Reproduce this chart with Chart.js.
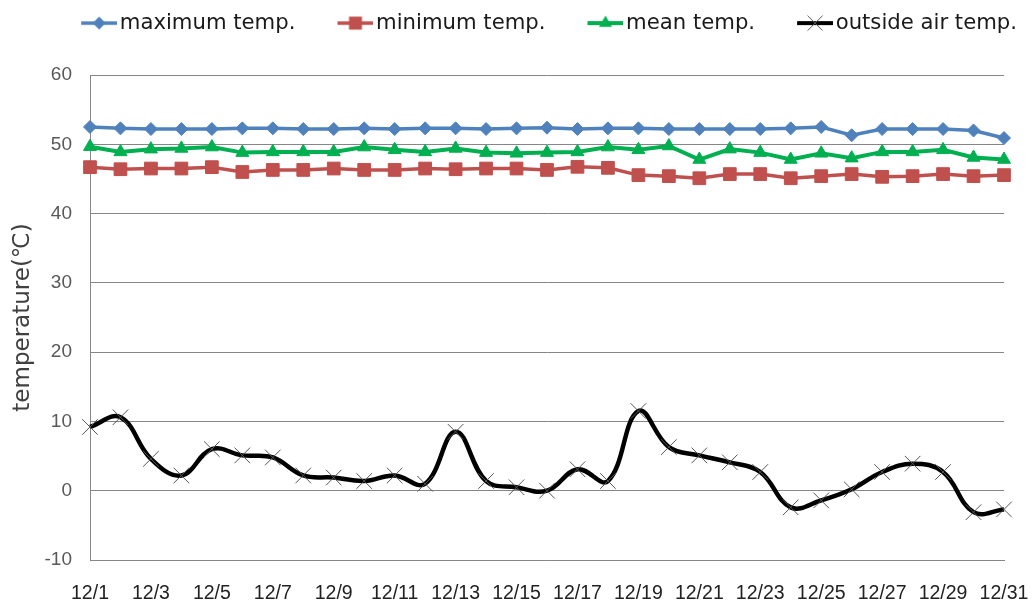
<!DOCTYPE html>
<html>
<head>
<meta charset="utf-8">
<title>temperature</title>
<script src="https://cdn.jsdelivr.net/npm/chart.js@4.4.1/dist/chart.umd.min.js"></script>
<style>
  html, body { margin: 0; padding: 0; background: #fff; }
  canvas { display: block; }
</style>
</head>
<body>
<canvas id="temps" width="1032" height="606"></canvas>
<script>
// data
const days = ["12/1", "12/2", "12/3", "12/4", "12/5", "12/6", "12/7", "12/8", "12/9", "12/10",
  "12/11", "12/12", "12/13", "12/14", "12/15", "12/16", "12/17", "12/18", "12/19", "12/20",
  "12/21", "12/22", "12/23", "12/24", "12/25", "12/26", "12/27", "12/28", "12/29", "12/30", "12/31"];
const maxTemp = [52.5, 52.3, 52.2, 52.2, 52.2, 52.3, 52.3, 52.2, 52.2, 52.3, 52.2, 52.3, 52.3, 52.2, 52.3, 52.4,
  52.2, 52.3, 52.3, 52.2, 52.2, 52.2, 52.2, 52.3, 52.5, 51.3, 52.2, 52.2, 52.2, 52.0, 50.9];
const minTemp = [46.7, 46.4, 46.5, 46.5, 46.7, 46.0, 46.3, 46.3, 46.5, 46.3, 46.3, 46.5, 46.4, 46.5, 46.5, 46.3,
  46.75, 46.6, 45.55, 45.4, 45.1, 45.7, 45.7, 45.1, 45.4, 45.7, 45.3, 45.4, 45.7, 45.4, 45.55];
const meanTemp = [49.65, 48.9, 49.3, 49.4, 49.6, 48.8, 48.9, 48.9, 48.9, 49.6, 49.2, 48.9, 49.4, 48.8, 48.7, 48.8,
  48.9, 49.6, 49.2, 49.75, 47.8, 49.3, 48.8, 47.8, 48.7, 48.0, 48.9, 48.9, 49.2, 48.1, 47.8];
const outsideTemp = [9.2, 10.6, 4.6, 2.2, 6.0, 5.1, 4.8, 2.2, 1.9, 1.4, 2.2, 1.0, 8.5, 1.4, 0.5, 0.0,
  3.1, 1.4, 11.5, 6.3, 5.1, 4.1, 2.7, -2.4, -1.4, 0.2, 2.7, 3.9, 2.7, -3.1, -2.7];
const seriesNames = ["maximum temp.", "minimum temp.", "mean temp.", "outside air temp."];
const yTicks = [-10, 0, 10, 20, 30, 40, 50, 60];

const context = document.getElementById("temps").getContext("2d");

// legend sizes
const legendFont = 21.2;
const legendPad = 10;
const boxW = 60;

// a line with the marker on it, drawn at the right end of a small canvas
function swatch(color, lineWidth, shape, markColor) {
  const c = document.createElement("canvas");
  c.width = 76;
  c.height = 24;
  const g = c.getContext("2d");
  const x = c.width - 18, y = 12;
  g.strokeStyle = color;
  g.lineWidth = lineWidth;
  g.beginPath();
  g.moveTo(c.width - 36, y);
  g.lineTo(c.width, y);
  g.stroke();
  g.fillStyle = color;
  g.beginPath();
  if (shape == "diamond") {
    g.moveTo(x - 6.5, y); g.lineTo(x, y - 6.5); g.lineTo(x + 6.5, y); g.lineTo(x, y + 6.5);
    g.closePath(); g.fill();
  } else if (shape == "square") {
    g.rect(x - 6.5, y - 6.5, 13, 13); g.fill();
  } else if (shape == "triangle") {
    g.moveTo(x, y - 7.5); g.lineTo(x + 6.5, y + 3.75); g.lineTo(x - 6.5, y + 3.75);
    g.closePath(); g.fill();
  } else {
    g.strokeStyle = markColor;
    g.lineWidth = 1;
    g.moveTo(x - 7.5, y - 7.5); g.lineTo(x + 7.5, y + 7.5);
    g.moveTo(x + 7.5, y - 7.5); g.lineTo(x - 7.5, y + 7.5);
    g.stroke();
  }
  return c;
}

const swatches = [
  swatch("#4F81BD", 3.5, "diamond"),
  swatch("#C0504D", 3.5, "square"),
  swatch("#00B050", 4, "triangle"),
  swatch("#000000", 4, "cross", "#555")
];

const chart = new Chart(context, {
  type: "line",
  data: {
    labels: days,
    datasets: [{
      label: seriesNames[0],
      data: maxTemp,
      borderColor: "#4F81BD",
      backgroundColor: "#4F81BD",
      borderWidth: 3.5,
      pointStyle: "rectRot",
      pointRadius: 6.5,
      pointBorderWidth: 1,
      tension: 0,
      clip: false
    }, {
      label: seriesNames[1],
      data: minTemp,
      borderColor: "#C0504D",
      backgroundColor: "#C0504D",
      borderWidth: 3.5,
      pointStyle: "rect",
      pointRadius: 9,
      pointBorderWidth: 1,
      tension: 0,
      clip: false
    }, {
      label: seriesNames[2],
      data: meanTemp,
      borderColor: "#00B050",
      backgroundColor: "#00B050",
      borderWidth: 4,
      pointStyle: "triangle",
      pointRadius: 7.5,
      pointBorderWidth: 1,
      tension: 0,
      clip: false
    }, {
      label: seriesNames[3],
      data: outsideTemp,
      borderColor: "#000000",
      backgroundColor: "#000000",
      borderWidth: 4.5,
      pointStyle: "crossRot",
      pointRadius: 11,
      pointBorderColor: "#555555",
      pointBorderWidth: 1,
      tension: 0.4,
      clip: false
    }]
  },
  options: {
    responsive: false,
    animation: false,
    devicePixelRatio: 1,
    layout: { padding: { top: 2.5, right: 5, left: 0, bottom: 0 } },
    plugins: {
      legend: {
        position: "top",
        align: "end",
        labels: {
          usePointStyle: true,
          pointStyleWidth: boxW,
          padding: legendPad,
          color: "#1a1a1a",
          font: { family: "DejaVu Sans", size: legendFont },
          generateLabels(ch) {
            const items = Chart.defaults.plugins.legend.labels.generateLabels(ch);
            items.forEach((it, i) => { it.pointStyle = swatches[i]; });
            return items;
          }
        }
      },
      // empty title only used as a gap between legend and plot
      title: {
        display: true,
        text: "",
        weight: 100,
        font: { size: 10 },
        padding: { top: 0, bottom: 19.3 }
      },
      tooltip: { enabled: false }
    },
    scales: {
      x: {
        offset: false,
        grid: { display: false, drawTicks: false },
        border: { display: true, color: "#868686" },
        ticks: {
          autoSkip: false,
          maxRotation: 0,
          padding: 22,
          color: "#222",
          font: { family: "Liberation Sans", size: 19.5 },
          callback: (v, i) => (i % 2 == 0 ? days[i] : "")
        },
        afterFit(scale) {
          scale.height = 46;
          scale.paddingLeft = 0;
          scale.paddingRight = 28;
        }
      },
      y: {
        min: yTicks[0],
        max: yTicks[yTicks.length - 1],
        grid: { color: "#868686", lineWidth: 1, drawTicks: false },
        border: { display: true, color: "#868686" },
        ticks: {
          stepSize: 10,
          padding: 18,
          color: "#595959",
          font: { family: "Liberation Sans", size: 19 }
        },
        title: {
          display: true,
          text: "temperature(℃)",
          color: "#404040",
          font: { family: "DejaVu Sans", size: 23 },
          padding: { top: 9, bottom: 0 }
        },
        afterFit(scale) {
          scale.width = 90;
        }
      }
    }
  }
});
</script>
</body>
</html>
